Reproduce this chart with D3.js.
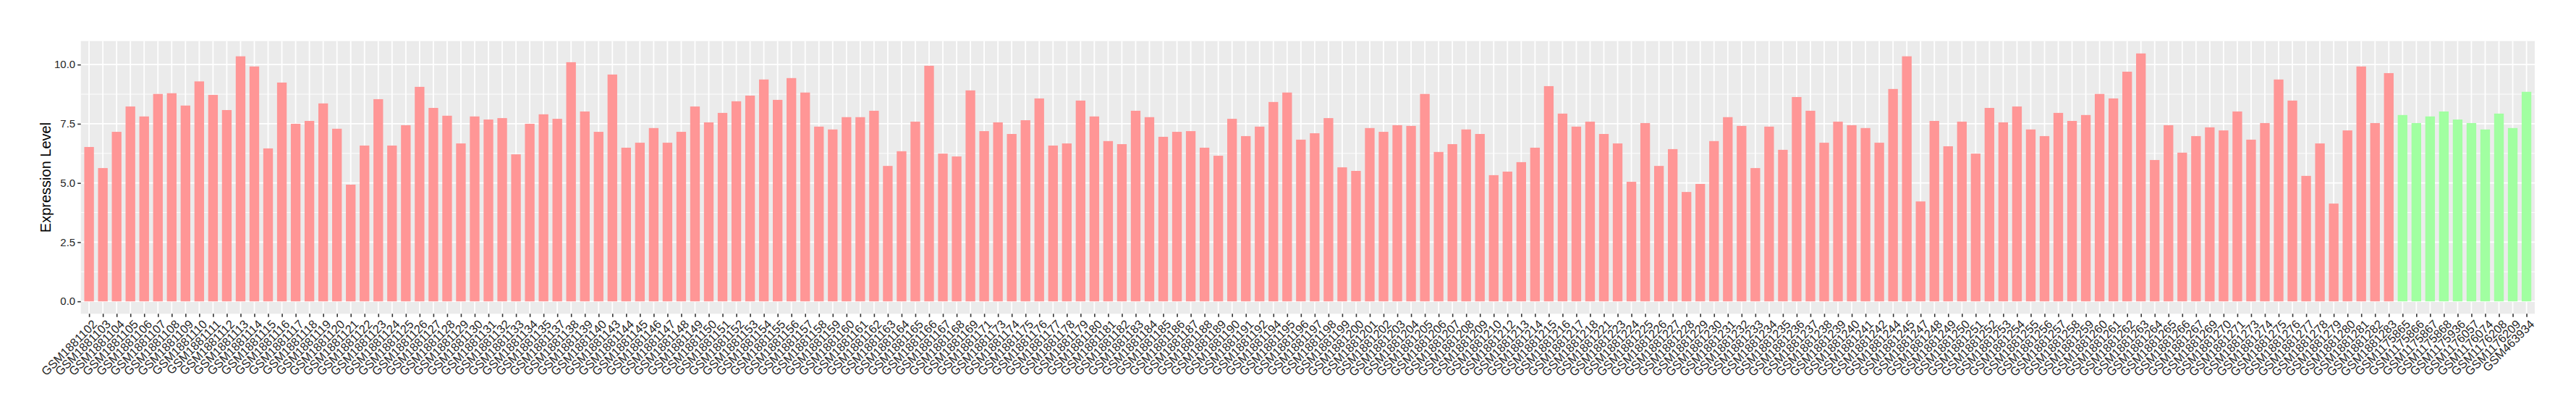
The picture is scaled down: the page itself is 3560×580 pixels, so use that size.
<!DOCTYPE html>
<html>
<head>
<meta charset="utf-8">
<script src="https://cdn.jsdelivr.net/npm/d3@7"></script>
<style>
  html, body { margin: 0; padding: 0; background: #fff; }
  svg { display: block; }
</style>
</head>
<body>
<svg id="chart" width="3560" height="580"></svg>
<script>
const groupASamples = ["GSM1881102","GSM1881103","GSM1881104","GSM1881105","GSM1881106","GSM1881107","GSM1881108","GSM1881109","GSM1881110","GSM1881111","GSM1881112","GSM1881113","GSM1881114","GSM1881115","GSM1881116","GSM1881117","GSM1881118","GSM1881119","GSM1881120","GSM1881121","GSM1881122","GSM1881123","GSM1881124","GSM1881125","GSM1881126","GSM1881127","GSM1881128","GSM1881129","GSM1881130","GSM1881131","GSM1881132","GSM1881133","GSM1881134","GSM1881135","GSM1881137","GSM1881138","GSM1881139","GSM1881140","GSM1881143","GSM1881144","GSM1881145","GSM1881146","GSM1881147","GSM1881148","GSM1881149","GSM1881150","GSM1881151","GSM1881152","GSM1881153","GSM1881154","GSM1881155","GSM1881156","GSM1881157","GSM1881158","GSM1881159","GSM1881160","GSM1881161","GSM1881162","GSM1881163","GSM1881164","GSM1881165","GSM1881166","GSM1881167","GSM1881168","GSM1881169","GSM1881171","GSM1881173","GSM1881174","GSM1881175","GSM1881176","GSM1881177","GSM1881178","GSM1881179","GSM1881180","GSM1881181","GSM1881182","GSM1881183","GSM1881184","GSM1881185","GSM1881186","GSM1881187","GSM1881188","GSM1881189","GSM1881190","GSM1881191","GSM1881192","GSM1881194","GSM1881195","GSM1881196","GSM1881197","GSM1881198","GSM1881199","GSM1881200","GSM1881201","GSM1881202","GSM1881203","GSM1881204","GSM1881205","GSM1881206","GSM1881207","GSM1881208","GSM1881209","GSM1881210","GSM1881212","GSM1881213","GSM1881214","GSM1881215","GSM1881216","GSM1881217","GSM1881218","GSM1881221","GSM1881223","GSM1881224","GSM1881225","GSM1881226","GSM1881227","GSM1881228","GSM1881229","GSM1881230","GSM1881231","GSM1881232","GSM1881233","GSM1881234","GSM1881235","GSM1881236","GSM1881237","GSM1881238","GSM1881239","GSM1881240","GSM1881241","GSM1881242","GSM1881244","GSM1881245","GSM1881247","GSM1881248","GSM1881249","GSM1881250","GSM1881251","GSM1881252","GSM1881253","GSM1881254","GSM1881255","GSM1881256","GSM1881257","GSM1881258","GSM1881259","GSM1881260","GSM1881261","GSM1881262","GSM1881263","GSM1881264","GSM1881265","GSM1881266","GSM1881267","GSM1881269","GSM1881270","GSM1881271","GSM1881273","GSM1881274","GSM1881275","GSM1881276","GSM1881277","GSM1881278","GSM1881279","GSM1881280","GSM1881281","GSM1881282","GSM1881283"];
const groupAValues = [6.52,5.63,7.16,8.23,7.81,8.76,8.79,8.27,9.29,8.72,8.08,10.35,9.92,6.46,9.24,7.50,7.62,8.36,7.29,4.93,6.58,8.54,6.58,7.44,9.06,8.17,7.84,6.67,7.81,7.68,7.74,6.21,7.50,7.90,7.71,10.10,8.02,7.16,9.58,6.49,6.70,7.32,6.70,7.16,8.23,7.56,7.96,8.45,8.69,9.37,8.51,9.43,8.82,7.38,7.26,7.78,7.78,8.05,5.72,6.34,7.59,9.95,6.24,6.12,8.91,7.19,7.56,7.07,7.65,8.57,6.58,6.67,8.48,7.81,6.77,6.64,8.05,7.78,6.95,7.16,7.19,6.49,6.15,7.71,6.98,7.38,8.42,8.82,6.83,7.10,7.74,5.66,5.51,7.32,7.16,7.44,7.41,8.76,6.31,6.64,7.26,7.07,5.33,5.48,5.88,6.49,9.09,7.93,7.38,7.59,7.07,6.67,5.05,7.53,5.72,6.43,4.62,4.96,6.77,7.78,7.41,5.63,7.38,6.40,8.63,8.05,6.70,7.59,7.44,7.32,6.70,8.97,10.35,4.22,7.62,6.55,7.59,6.24,8.17,7.56,8.23,7.26,6.98,7.96,7.62,7.87,8.76,8.57,9.70,10.47,5.97,7.44,6.28,6.98,7.35,7.22,8.02,6.83,7.53,9.37,8.48,5.30,6.67,4.13,7.22,9.92,7.53,9.64];
const groupBSamples = ["GSM1175865","GSM1175866","GSM1175867","GSM1175868","GSM1175936","GSM1176057","GSM1176074","GSM1176208","GSM1176209","GSM463934"];
const groupBValues = [7.87,7.53,7.81,8.02,7.68,7.53,7.26,7.93,7.32,8.85];
const yTicks = [0, 2.5, 5, 7.5, 10];
const yMinorTicks = [1.25, 3.75, 6.25, 8.75];
const groupColors = { A: "#FF9696", B: "#A1FFA1" };
const yTitle = "Expression Level";

const data = groupASamples.map((s, i) => ({ sample: s, value: groupAValues[i], group: "A" }))
  .concat(groupBSamples.map((s, i) => ({ sample: s, value: groupBValues[i], group: "B" })));

const svg = d3.select("#chart");
const panel = { left: 111.7, right: 3503, top: 56.7, bottom: 433.3 };

const x = d3.scalePoint()
  .domain(data.map(d => d.sample))
  .range([panel.left, panel.right])
  .padding(0.6);
const step = x.step();
const barW = step * 0.7;

const maxV = d3.max(data, d => d.value);
const pad = maxV * 0.05;
const y = d3.scaleLinear()
  .domain([-pad, maxV + pad])
  .range([panel.bottom, panel.top]);

svg.append("rect")
  .attr("x", panel.left).attr("y", panel.top)
  .attr("width", panel.right - panel.left).attr("height", panel.bottom - panel.top)
  .attr("fill", "#EBEBEB");

svg.append("g").selectAll("line").data(yMinorTicks).join("line")
  .attr("x1", panel.left).attr("x2", panel.right)
  .attr("y1", d => y(d)).attr("y2", d => y(d))
  .attr("stroke", "#fff").attr("stroke-width", 0.9);

svg.append("g").selectAll("line").data(yTicks).join("line")
  .attr("x1", panel.left).attr("x2", panel.right)
  .attr("y1", d => y(d)).attr("y2", d => y(d))
  .attr("stroke", "#fff").attr("stroke-width", 1.8);

svg.append("g").selectAll("line").data(data).join("line")
  .attr("x1", d => x(d.sample)).attr("x2", d => x(d.sample))
  .attr("y1", panel.top).attr("y2", panel.bottom)
  .attr("stroke", "#fff").attr("stroke-width", 1.8);

svg.append("g").selectAll("rect").data(data).join("rect")
  .attr("x", d => x(d.sample) - barW / 2)
  .attr("width", barW)
  .attr("y", d => y(d.value))
  .attr("height", d => y(0) - y(d.value))
  .attr("fill", d => groupColors[d.group]);

const yAxis = d3.axisLeft(y).tickValues(yTicks).tickFormat(d3.format(".1f")).tickSize(4.5).tickPadding(3);
const gy = svg.append("g").attr("transform", `translate(${panel.left},0)`).call(yAxis);
gy.select(".domain").remove();
gy.selectAll(".tick line").attr("stroke", "#333").attr("stroke-width", 1.6);
gy.selectAll(".tick text").attr("fill", "#262626")
  .style("font-family", "'Liberation Sans', Arial, sans-serif").style("font-size", "15px");

const xAxis = d3.axisBottom(x).tickSize(4.5).tickPadding(0);
const gx = svg.append("g").attr("transform", `translate(0,${panel.bottom})`).call(xAxis);
gx.select(".domain").remove();
gx.selectAll(".tick line").attr("stroke", "#333").attr("stroke-width", 1.6);
gx.selectAll(".tick text")
  .attr("fill", "#262626")
  .style("font-family", "'Liberation Sans', Arial, sans-serif").style("font-size", "16.5px")
  .attr("text-anchor", "end")
  .attr("y", 0).attr("dy", "0.72em")
  .attr("transform", "translate(3,7) rotate(-45)");

svg.append("text")
  .attr("transform", `translate(70,${(panel.top + panel.bottom) / 2}) rotate(-90)`)
  .attr("text-anchor", "middle")
  .style("font-family", "'Liberation Sans', Arial, sans-serif").style("font-size", "20px")
  .attr("fill", "#000")
  .text(yTitle);
</script>
</body>
</html>
